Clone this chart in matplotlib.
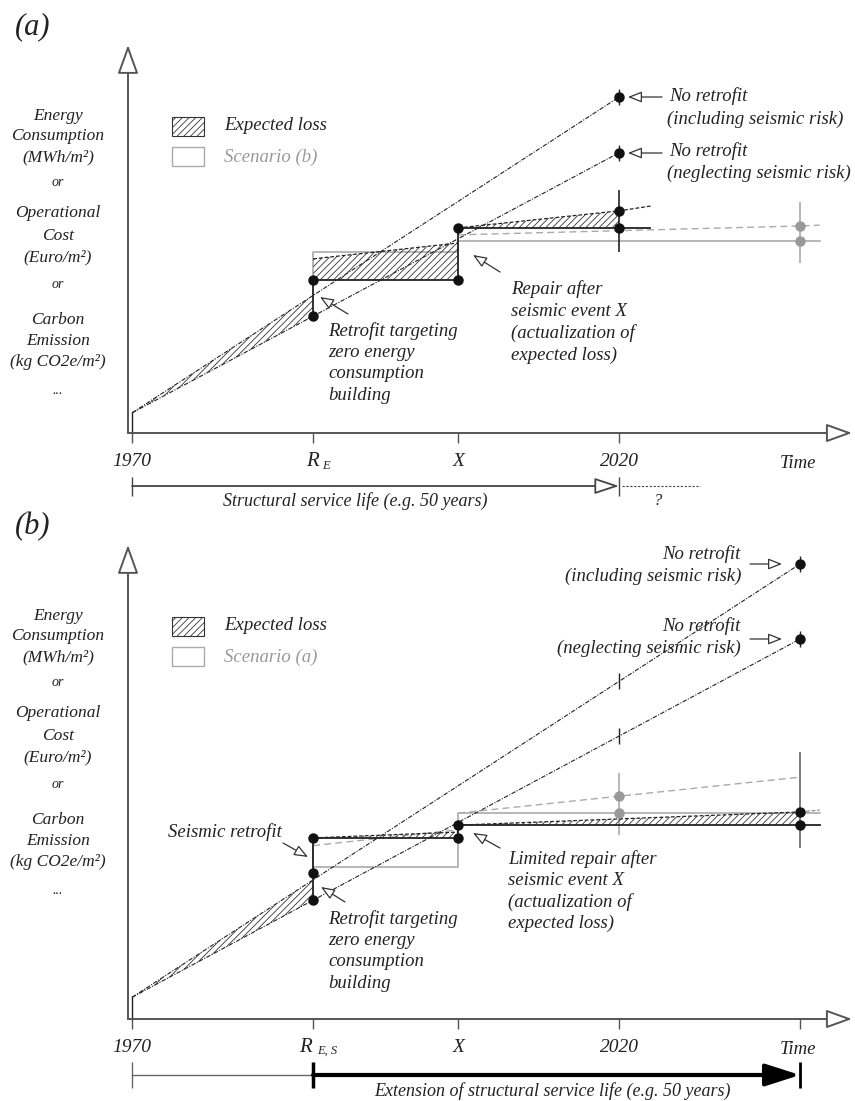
#!/usr/bin/env python3
import numpy as np
import matplotlib.pyplot as plt
from matplotlib.patches import Rectangle

plt.rcParams['font.family'] = ['Liberation Serif', 'DejaVu Serif']
plt.rcParams['font.style'] = 'italic'
plt.rcParams['hatch.linewidth'] = 0.6
plt.rcParams['hatch.color'] = '#333333'

# schematic units: time = years after 1970, level = arbitrary units
T_R, T_X, T_2020, T_END, T_EXT = 18.6, 33.5, 50.0, 68.6, 70.6
tick_years = [0.0, T_R, T_X, T_2020]
tick_text = ['1970', 'R', 'X', '2020']

# panel (a): retrofit targeting zero energy only
a_start = 5.2
a_incl_2020 = 86.8          # no retrofit (including seismic risk)
a_negl_2020 = 72.4          # no retrofit (neglecting seismic risk)
a_after_retrofit = 39.5
a_loss_RX = [45.0, 49.1]
a_after_repair = 53.0
a_loss_t = [T_X, T_2020, 53.4]
a_loss = [53.0, 57.4, 58.7]
a_bar_2020 = [46.8, 62.8]
a_scen_t = [T_R, T_R, T_X, T_X, T_EXT]
a_scen = [39.5, 46.8, 46.8, 49.6, 49.6]       # scenario (b), grey
a_scen_loss_t = [T_X, T_END, T_EXT]
a_scen_loss = [51.2, 53.5, 53.7]
a_bar_end = [43.9, 59.7]

# panel (b): seismic + energy retrofit
b_start = 5.6
b_incl_end = 117.6
b_negl_end = 98.2
b_energy_retrofit = 37.7
b_seismic_retrofit = 46.8
b_loss_RX = [46.8, 48.3]
b_after_repair = 50.1
b_loss_t = [T_X, T_END]
b_loss = [50.1, 53.5]
b_loss_ext = [53.5, 54.0]
b_scen_t = [T_R, T_R, T_X, T_X, T_EXT]
b_scen = [44.8, 39.3, 39.3, 53.2, 53.2]       # scenario (a), grey
b_scen_loss_RX = [44.8, 48.9]
b_scen_loss = [53.2, 62.5]
b_bar_2020 = [47.5, 63.6]
b_bar_end = [44.2, 69.0]

ylabel_lines = ['Energy', 'Consumption', '(MWh/m²)', 'or', 'Operational', 'Cost',
                '(Euro/m²)', 'or', 'Carbon', 'Emission', '(kg CO2e/m²)', '...']
ylabel_dy = [0, 20, 41, 67, 97, 120, 141, 169, 204, 225, 246, 274]

FIG_W, FIG_H = 855, 1101
X0, SX, SY = 132, 9.74, 3.87     # px of 1970, px per year, px per level unit
INK = '#222222'
AXC = '#555555'
GREY = '#aaaaaa'
DASH_NR = (0, (4, 1.3, 1, 1.3))
DASH = (0, (3, 1.6))
HATCH = '/////'

fig = plt.figure(figsize=(FIG_W / 100, FIG_H / 100), dpi=100)


def panel(top, bottom, base):
    ax = fig.add_axes([0, 1 - bottom / FIG_H, 1, (bottom - top) / FIG_H])
    ax.set_xlim(-X0 / SX, (FIG_W - X0) / SX)
    ax.set_ylim((base - bottom) / SY, (base - top) / SY)
    ax.axis('off')
    ax.base = base
    return ax


def at(ax, px, py):
    return (px - X0) / SX, (ax.base - py) / SY


def txt(ax, px, py, s, size=13.5, ha='left', color=INK, **kw):
    x, y = at(ax, px, py)
    ax.text(x, y, s, size=size, ha=ha, va='center', color=color, **kw)


def arrow(ax, tail, head, ms=12, hl=0.7, hw=0.28, fc='white', lw=0.9, ec='#333333'):
    ax.annotate('', xy=at(ax, *head), xytext=at(ax, *tail), annotation_clip=False,
                arrowprops=dict(arrowstyle=f'-|>,head_length={hl},head_width={hw}',
                                mutation_scale=ms, fc=fc, ec=ec, lw=lw,
                                shrinkA=0, shrinkB=0))


def hatch(ax, t, lo, hi):
    ax.fill_between(t, lo, hi, facecolor='none', edgecolor='#333333',
                    hatch=HATCH, linewidth=0, zorder=2)


def dots(ax, t, y, color='#111111'):
    ax.plot(t, y, 'o', ms=6.5, color=color, zorder=6)


def frame(ax, label, tip_py, time_tick, scen_name):
    b = ax.base
    txt(ax, 15, tip_py - 18, label, size=22)
    arrow(ax, (128, b), (128, tip_py), ms=18, hl=1.0, hw=0.36, lw=1.4, ec=AXC)
    arrow(ax, (128, b), (852, b), ms=16, hl=1.0, hw=0.36, lw=1.4, ec=AXC)
    ticks = tick_years + ([T_END] if time_tick else [])
    ax.vlines(ticks, -10 / SY, 0, color=AXC, lw=1.0)
    for t, s in zip(tick_years, tick_text):
        x = t * SX + X0
        if s == 'R':
            continue
        txt(ax, x, b + 29, s, size=14, ha='center')
    txt(ax, 798, b + 31, 'Time', size=13.5, ha='center')
    for dy, s in zip(ylabel_dy, ylabel_lines):
        small = s in ('or', '...')
        txt(ax, 58, tip_py + 71 + dy, s, size=10 if small else 12.5, ha='center')
    # legend
    lx, ly = at(ax, 172, tip_py + 91)
    ax.add_patch(Rectangle((lx, ly), 32 / SX, 19 / SY, facecolor='none',
                           edgecolor='#333333', hatch=HATCH, lw=0.8))
    lx, ly = at(ax, 172, tip_py + 121)
    ax.add_patch(Rectangle((lx, ly), 32 / SX, 19 / SY, facecolor='white',
                           edgecolor=GREY, lw=1.0))
    txt(ax, 224, tip_py + 81, 'Expected loss')
    txt(ax, 224, tip_py + 112, scen_name, color='#999999')


# ---------------- panel (a) ----------------
ax = panel(0, 540, 433)
frame(ax, '(a)', 45, False, 'Scenario (b)')
txt(ax, 312, 462, 'R', size=15, ha='center')
txt(ax, 326, 466, 'E', size=9, ha='center')

ax.plot([0, 0], [0, a_start], color=INK, lw=1.0)
ax.plot([0, T_2020], [a_start, a_incl_2020], color=INK, lw=0.8, ls=DASH_NR)
ax.plot([0, T_2020], [a_start, a_negl_2020], color=INK, lw=0.8, ls=DASH_NR)
t_pre = np.array([0, T_R])
a_negl_R = np.interp(T_R, [0, T_2020], [a_start, a_negl_2020])
hatch(ax, t_pre, np.interp(t_pre, [0, T_2020], [a_start, a_negl_2020]),
      np.interp(t_pre, [0, T_2020], [a_start, a_incl_2020]))

# scenario (b) in grey
ax.plot(a_scen_t, a_scen, color=GREY, lw=1.2, zorder=1)
ax.plot(a_scen_loss_t, a_scen_loss, color=GREY, lw=1.0, ls=(0, (5, 3)), zorder=1)
ax.vlines(T_END, *a_bar_end, color=GREY, lw=1.2)
dots(ax, [T_END, T_END], [a_scen[-1], a_scen_loss[1]], color='#999999')

# actual path
hatch(ax, [T_R, T_X], [a_after_retrofit] * 2, a_loss_RX)
ax.plot([T_R, T_X], a_loss_RX, color=INK, lw=0.9, ls=DASH)
hatch(ax, a_loss_t[:2], [a_after_repair] * 2, a_loss[:2])
ax.plot(a_loss_t, a_loss, color=INK, lw=0.9, ls=DASH)
ax.plot([T_R, T_R, T_X, T_X, 53.2],
        [a_negl_R, a_after_retrofit, a_after_retrofit, a_after_repair, a_after_repair],
        color=INK, lw=1.3, zorder=4)
ax.vlines(T_2020, *a_bar_2020, color=INK, lw=1.2)
dots(ax, [T_R, T_R, T_X, T_X, T_2020, T_2020],
     [a_negl_R, a_after_retrofit, a_after_retrofit, a_after_repair, a_after_repair, a_loss[1]])
dots(ax, [T_2020, T_2020], [a_incl_2020, a_negl_2020])
ax.plot([T_2020, T_2020], [a_incl_2020, a_negl_2020], '|', ms=11, mew=1.0, color=INK)

arrow(ax, (662, 97), (628, 97))
arrow(ax, (662, 153), (628, 153))
txt(ax, 669, 96, 'No retrofit')
txt(ax, 667, 119, '(including seismic risk)')
txt(ax, 669, 151, 'No retrofit')
txt(ax, 667, 173, '(neglecting seismic risk)')
arrow(ax, (348, 314), (320, 297))
for i, s in enumerate(['Retrofit targeting', 'zero energy', 'consumption', 'building']):
    txt(ax, 328, 331 + 21.5 * i, s)
arrow(ax, (500, 272), (473, 255))
for i, s in enumerate(['Repair after', 'seismic event X', '(actualization of', 'expected loss)']):
    txt(ax, 511, 289 + 22 * i, s)

# service life
arrow(ax, (132, 486), (619, 486), ms=15, hl=1.0, hw=0.33, lw=1.3, ec='#444444')
ax.vlines([0, T_2020], at(ax, 0, 496)[1], at(ax, 0, 477)[1], color='#444444', lw=1.0)
ax.plot([T_2020 + 0.3, 58.3], [at(ax, 0, 486)[1]] * 2, color='#444444', lw=0.8, ls=(0, (2, 1.5)))
txt(ax, 355, 501, 'Structural service life (e.g. 50 years)', size=13, ha='center')
txt(ax, 658, 501, '?', size=12, ha='center')

# ---------------- panel (b) ----------------
ax = panel(540, 1101, 1019)
frame(ax, '(b)', 545, True, 'Scenario (a)')
txt(ax, 305, 1047, 'R', size=15, ha='center')
txt(ax, 327, 1051, 'E, S', size=9, ha='center')

ax.plot([0, 0], [0, b_start], color=INK, lw=1.0)
ax.plot([0, T_END], [b_start, b_incl_end], color=INK, lw=0.8, ls=DASH_NR)
ax.plot([0, T_END], [b_start, b_negl_end], color=INK, lw=0.8, ls=DASH_NR)
b_negl_R = np.interp(T_R, [0, T_END], [b_start, b_negl_end])
hatch(ax, t_pre, np.interp(t_pre, [0, T_END], [b_start, b_negl_end]),
      np.interp(t_pre, [0, T_END], [b_start, b_incl_end]))
t_cross = [T_2020, T_2020]
ax.plot(t_cross, [np.interp(T_2020, [0, T_END], [b_start, b_incl_end]),
                  np.interp(T_2020, [0, T_END], [b_start, b_negl_end])],
        '|', ms=12, mew=1.0, color=INK)

# scenario (a) in grey
ax.plot(b_scen_t, b_scen, color=GREY, lw=1.2, zorder=1)
ax.plot([T_R, T_X], b_scen_loss_RX, color=GREY, lw=1.0, ls=(0, (5, 3)), zorder=1)
ax.plot([T_X, T_END], b_scen_loss, color=GREY, lw=1.0, ls=(0, (5, 3)), zorder=1)
ax.vlines(T_2020, *b_bar_2020, color=GREY, lw=1.2)
dots(ax, t_cross, [b_scen[-1], np.interp(T_2020, [T_X, T_END], b_scen_loss)], color='#999999')

# actual path
hatch(ax, [T_R, T_X], [b_seismic_retrofit] * 2, b_loss_RX)
ax.plot([T_R, T_X], b_loss_RX, color=INK, lw=0.9, ls=DASH)
hatch(ax, b_loss_t, [b_after_repair] * 2, b_loss)
ax.plot(b_loss_t, b_loss, color=INK, lw=0.9, ls=DASH)
ax.plot([T_END, T_EXT], b_loss_ext, color='#888888', lw=0.9, ls=DASH)
ax.plot([T_R, T_R, T_X, T_X, T_EXT],
        [b_negl_R, b_seismic_retrofit, b_seismic_retrofit, b_after_repair, b_after_repair],
        color=INK, lw=1.3, zorder=4)
ax.vlines(T_END, *b_bar_end, color='#666666', lw=1.2)
dots(ax, [T_R, T_R, T_R, T_X, T_X, T_END, T_END],
     [b_negl_R, b_energy_retrofit, b_seismic_retrofit, b_seismic_retrofit,
      b_after_repair, b_after_repair, b_loss[1]])
dots(ax, [T_END, T_END], [b_incl_end, b_negl_end])
ax.plot([T_END, T_END], [b_incl_end, b_negl_end], '|', ms=11, mew=1.0, color=INK)

arrow(ax, (750, 564), (782, 564))
arrow(ax, (750, 639), (782, 639))
txt(ax, 741, 554, 'No retrofit', ha='right')
txt(ax, 741, 576, '(including seismic risk)', ha='right')
txt(ax, 741, 626, 'No retrofit', ha='right')
txt(ax, 741, 648, '(neglecting seismic risk)', ha='right')
txt(ax, 168, 832, 'Seismic retrofit')
arrow(ax, (283, 843), (308, 857))
arrow(ax, (345, 902), (321, 887))
for i, s in enumerate(['Retrofit targeting', 'zero energy', 'consumption', 'building']):
    txt(ax, 328, 919 + 21.5 * i, s)
arrow(ax, (500, 848), (473, 833))
for i, s in enumerate(['Limited repair after', 'seismic event X', '(actualization of', 'expected loss)']):
    txt(ax, 508, 859 + 21.5 * i, s)

# extension of service life
yb = at(ax, 0, 1075)[1]
ax.plot([0, T_R], [yb, yb], color='#666666', lw=1.0)
arrow(ax, (313, 1075), (800, 1075), ms=15, hl=1.4, hw=0.45, fc='black', ec='black', lw=3.0)
ax.vlines([0, T_R, T_END], at(ax, 0, 1088)[1], at(ax, 0, 1062)[1],
          color=['#666666', 'black', 'black'], lw=[1.0, 2.5, 2.0])
txt(ax, 552, 1091, 'Extension of structural service life (e.g. 50 years)', size=13, ha='center')

fig.savefig('out.png', dpi=100)
